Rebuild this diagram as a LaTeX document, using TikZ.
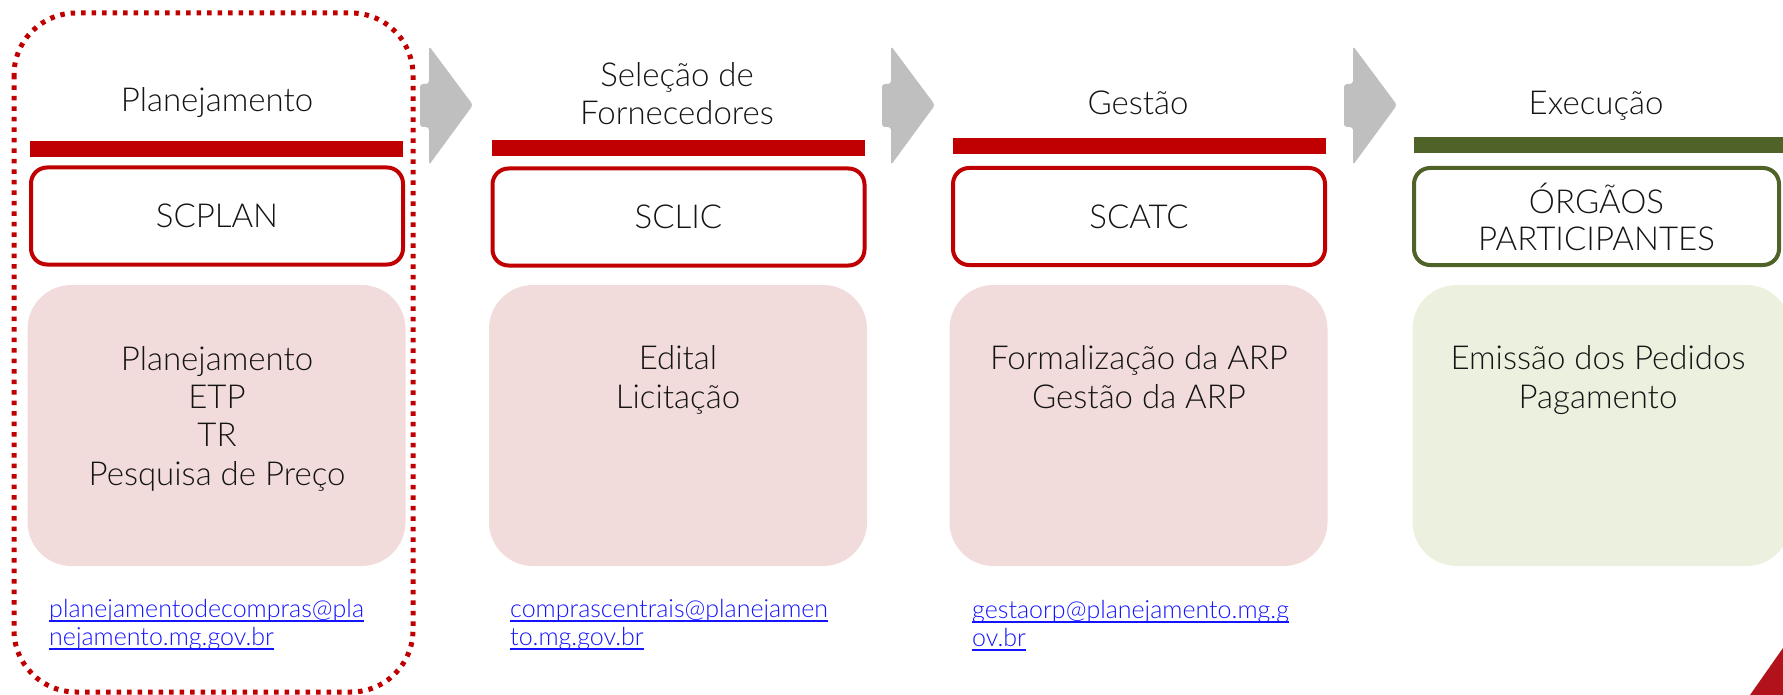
\documentclass[tikz,border=0pt]{standalone}
\usepackage{fontspec}
\setmainfont{Lato}[UprightFont={* Light}]
\newcommand{\linkul}[1]{\setbox0\hbox{#1}\rlap{\rule[-4.5pt]{\wd0}{1.4pt}}\box0}
\definecolor{dred}{RGB}{192,0,0}
\definecolor{dgreen}{RGB}{79,98,40}
\definecolor{pinkfill}{RGB}{242,220,219}
\definecolor{greenfill}{RGB}{235,241,222}
\definecolor{arrowgray}{RGB}{191,191,191}
\definecolor{txt}{RGB}{20,20,20}
\definecolor{linkblue}{RGB}{20,20,255}
\definecolor{cornerred}{RGB}{178,18,27}
\begin{document}
\begin{tikzpicture}[x=1pt,y=-1pt,
  bigtext/.style={font=\fontsize{33}{38.3}\selectfont, text=txt, align=center, inner sep=0pt},
  titletext/.style={bigtext, anchor=base},
  bodytext/.style={bigtext, anchor=base},
  sysbox/.style={draw=#1, line width=4pt, rounded corners=16pt, minimum width=372pt, minimum height=97pt, inner sep=0pt, font=\fontsize{33}{37}\selectfont, text=txt, align=center},
  contentbox/.style={fill=#1, rounded corners=44pt, minimum width=378pt, minimum height=281pt, inner sep=0pt},
  topbar/.style={fill=#1, minimum width=373pt, minimum height=16pt, inner sep=0pt},
  flowarrow/.style={fill=arrowgray, rounded corners=3pt},
  emailtext/.style={font=\fontsize{25}{28}\selectfont, text=linkblue, align=left, anchor=base west, inner sep=0pt},
  dottedframe/.style={draw=dred, line width=5pt, dash pattern=on 4.5pt off 6pt, rounded corners=62pt}
]
\useasboundingbox (0,0) rectangle (1783,695);

% dotted frame around the first column
\draw[dottedframe] (14,13) rectangle (413,692);

% flow arrows
\foreach \ax in {420, 882, 1344}{
  \fill[flowarrow] (\ax,84) -- (\ax+9,84) -- (\ax+9,46) -- (\ax+53,105) -- (\ax+9,165) -- (\ax+9,127) -- (\ax,127) -- cycle;
}

% (multi-line nodes: the base anchor is the baseline of the last line)
% column 1
\node[titletext] (t1) at (217,112) {Planejamento};
\node[topbar=dred] (b1) at (216.5,149) {};
\node[sysbox=dred] (s1) at (217,216) {SCPLAN};
\node[contentbox=pinkfill] (c1) at (216.5,425.5) {};
\node[bodytext] (x1) at (217,485) {Planejamento\\ETP\\TR\\Pesquisa de Preço};
\node[emailtext] (e1) at (49,645) {\linkul{planejamentodecompras@pla}\\\linkul{nejamento.mg.gov.br}};

% column 2
\node[titletext] (t2) at (677,125) {Seleção de\\Fornecedores};
\node[topbar=dred] (b2) at (678,148) {};
\node[sysbox=dred] (s2) at (678.5,217) {SCLIC};
\node[contentbox=pinkfill] (c2) at (678,425.5) {};
\node[bodytext] (x2) at (678,408) {Edital\\Licitação};
\node[emailtext] (e2) at (510,645) {\linkul{comprascentrais@planejamen}\\\linkul{to.mg.gov.br}};

% column 3
\node[titletext] (t3) at (1138,115) {Gestão};
\node[topbar=dred] (b3) at (1139,146) {};
\node[sysbox=dred] (s3) at (1139,216.5) {SCATC};
\node[contentbox=pinkfill] (c3) at (1138.5,425.5) {};
\node[bodytext] (x3) at (1139,408) {Formalização da ARP\\Gestão da ARP};
\node[emailtext] (e3) at (972,646) {\linkul{gestaorp@planejamento.mg.g}\\\linkul{ov.br}};

% column 4
\node[titletext] (t4) at (1596,115) {Execução};
\node[topbar=dgreen, minimum width=380pt] (b4) at (1604,145) {};
\node[sysbox=dgreen, minimum width=365pt] (s4) at (1596.5,216.5) {ÓRGÃOS\\PARTICIPANTES};
\node[contentbox=greenfill] (c4) at (1601.5,425.5) {};
\node[bodytext] (x4) at (1598,408) {Emissão dos Pedidos\\Pagamento};

% corner triangle
\fill[cornerred] (1783,648) -- (1783,695) -- (1750,695) -- cycle;
\end{tikzpicture}
\end{document}
